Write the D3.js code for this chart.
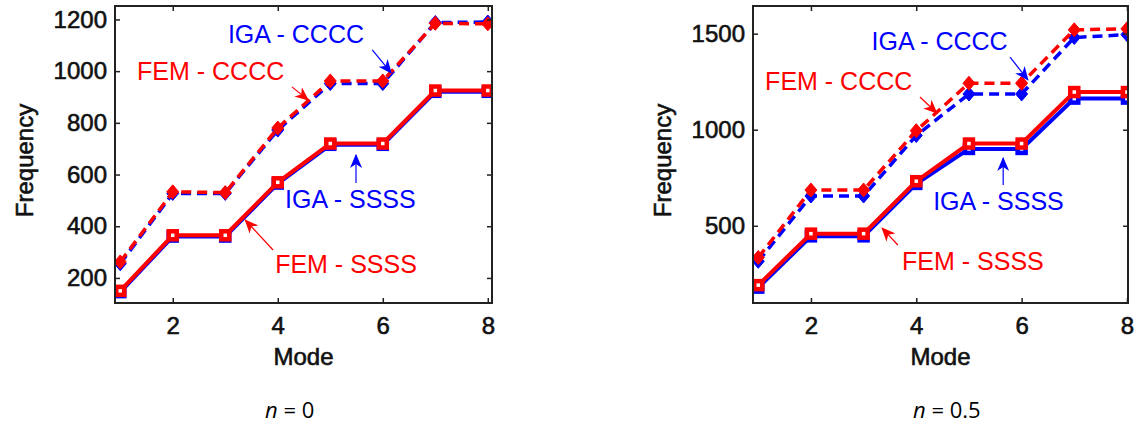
<!DOCTYPE html>
<html>
<head>
<meta charset="utf-8">
<script src="https://cdn.jsdelivr.net/npm/d3@7"></script>
<style>
  body { margin: 0; background: #fff; }
  svg { display: block; }
  .tick text { font-family: "Liberation Sans", Arial, sans-serif; font-size: 24px; fill: #111; stroke: #111; stroke-width: 0.6px; }
  .domain { display: none; }
</style>
</head>
<body>
<svg width="1135" height="425"></svg>
<script>
(function(d3) {
    "use strict";

// mode numbers (x)
var modes = [1, 2, 3, 4, 5, 6, 7, 8];

// n = 0
var femSSSS0 = [150, 365, 365, 570, 720, 720, 925, 925];
var igaSSSS0 = [145, 360, 360, 565, 715, 715, 920, 920];
var femCCCC0 = [262, 533, 530, 780, 962, 962, 1185, 1183];
var igaCCCC0 = [255, 527, 527, 772, 952, 952, 1188, 1190];

// n = 0.5
var femSSSS5 = [191, 459, 459, 732, 928, 928, 1196, 1196];
var igaSSSS5 = [178, 445, 445, 718, 900, 900, 1162, 1162];
var femCCCC5 = [335, 686, 686, 995, 1242, 1242, 1520, 1525];
var igaCCCC5 = [315, 655, 655, 970, 1186, 1186, 1480, 1495];

var xTicks = [2, 4, 6, 8];
var yTicks0 = [200, 400, 600, 800, 1000, 1200];
var yTicks5 = [500, 1000, 1500];

var BLUE = "#0000ff", RED = "#ff0000";

var svg = d3.select("svg");

var defs = svg.append("defs");
[["blue", BLUE], ["red", RED]].forEach(function(c) {
    defs.append("marker")
        .attr("id", "head-" + c[0])
        .attr("viewBox", "0 0 14 12")
        .attr("refX", 13).attr("refY", 6)
        .attr("markerUnits", "userSpaceOnUse")
        .attr("markerWidth", 14).attr("markerHeight", 12)
        .attr("orient", "auto")
        .append("path")
        .attr("d", "M0,0L14,6L0,12L4,6z")
        .attr("fill", c[1]);
});

var panels = [
    {
        left: 115, right: 492, top: 6, bottom: 303,
        xDom: [0.9, 8.08], yDom: [103, 1252], yTicks: yTicks0,
        sets: [
            {v: igaSSSS0, c: BLUE, dash: false},
            {v: igaCCCC0, c: BLUE, dash: true},
            {v: femSSSS0, c: RED, dash: false},
            {v: femCCCC0, c: RED, dash: true}
        ],
        notes: [
            {t: "IGA - CCCC", c: "blue", tx: 3.05, ty: 1109, a: [5.8, 1082, 6.16, 993]},
            {t: "FEM - CCCC", c: "red", tx: 1.32, ty: 966, a: [4.27, 939, 4.58, 888]},
            {t: "IGA - SSSS", c: "blue", tx: 4.14, ty: 470, a: [5.49, 567, 5.49, 676]},
            {t: "FEM - SSSS", c: "red", tx: 3.95, ty: 219, a: [3.91, 308, 3.38, 424]}
        ],
        caption: "0", capX: 265
    },
    {
        left: 753, right: 1128, top: 6, bottom: 303,
        xDom: [0.9, 8.02], yDom: [98, 1644], yTicks: yTicks5,
        sets: [
            {v: igaSSSS5, c: BLUE, dash: false},
            {v: igaCCCC5, c: BLUE, dash: true},
            {v: femSSSS5, c: RED, dash: false},
            {v: femCCCC5, c: RED, dash: true}
        ],
        notes: [
            {t: "IGA - CCCC", c: "blue", tx: 3.15, ty: 1415, a: [5.78, 1378, 6.12, 1259]},
            {t: "FEM - CCCC", c: "red", tx: 1.13, ty: 1207, a: [4.07, 1170, 4.39, 1087]},
            {t: "IGA - SSSS", c: "blue", tx: 4.32, ty: 582, a: [5.65, 712, 5.65, 853]},
            {t: "FEM - SSSS", c: "red", tx: 3.73, ty: 270, a: [3.65, 400, 3.35, 488]}
        ],
        caption: "0.5", capX: 913
    }
];

panels.forEach(function(p) {
    var x = d3.scaleLinear().domain(p.xDom).range([p.left, p.right]),
        y = d3.scaleLinear().domain(p.yDom).range([p.bottom, p.top]),
        g = svg.append("g");

    var clipId = "clip" + p.left;
    defs.append("clipPath").attr("id", clipId)
        .append("rect")
        .attr("x", p.left).attr("y", p.top)
        .attr("width", p.right - p.left).attr("height", p.bottom - p.top);

    var plot = g.append("g").attr("clip-path", "url(#" + clipId + ")");

    var line = d3.line()
        .x(function(d, i) { return x(modes[i]); })
        .y(function(d) { return y(d); });

    p.sets.forEach(function(s) {
        plot.append("path")
            .attr("d", line(s.v))
            .attr("fill", "none")
            .attr("stroke", s.c)
            .attr("stroke-width", s.dash ? 3.5 : 4)
            .attr("stroke-dasharray", s.dash ? "10,6" : null);

        if (s.dash) {
            plot.selectAll(null)
                .data(s.v)
                .enter().append("path")
                .attr("d", "M0,-7L6,0L0,7L-6,0Z")
                .attr("transform", function(d, i) { return "translate(" + x(modes[i]) + "," + y(d) + ")"; })
                .attr("fill", s.c)
                .attr("stroke", s.c)
                .attr("stroke-width", 1);
        } else {
            plot.selectAll(null)
                .data(s.v)
                .enter().append("rect")
                .attr("x", function(d, i) { return x(modes[i]) - 4; })
                .attr("y", function(d) { return y(d) - 4; })
                .attr("width", 8).attr("height", 8)
                .attr("fill", "#fff")
                .attr("stroke", s.c)
                .attr("stroke-width", 4.5);
        }
    });

    // axes, ticks inside
    var fmt = d3.format("d");
    g.append("g")
        .attr("transform", "translate(0," + p.bottom + ")")
        .call(d3.axisBottom(x).tickValues(xTicks).tickFormat(fmt).tickSizeInner(-5).tickSizeOuter(0).tickPadding(14));
    g.append("g")
        .attr("transform", "translate(0," + p.top + ")")
        .call(d3.axisTop(x).tickValues(xTicks).tickSizeInner(-5).tickSizeOuter(0).tickFormat(""));
    g.append("g")
        .attr("transform", "translate(" + p.left + ",0)")
        .call(d3.axisLeft(y).tickValues(p.yTicks).tickFormat(fmt).tickSizeInner(-5).tickSizeOuter(0).tickPadding(8));
    g.append("g")
        .attr("transform", "translate(" + p.right + ",0)")
        .call(d3.axisRight(y).tickValues(p.yTicks).tickSizeInner(-5).tickSizeOuter(0).tickFormat(""));
    g.selectAll(".tick line").attr("stroke", "#222").attr("stroke-width", 1.5);

    g.append("rect")
        .attr("x", p.left).attr("y", p.top)
        .attr("width", p.right - p.left).attr("height", p.bottom - p.top)
        .attr("fill", "none")
        .attr("stroke", "#222")
        .attr("stroke-width", 2);

    // annotations
    p.notes.forEach(function(n) {
        var col = n.c === "blue" ? BLUE : RED;
        g.append("text")
            .attr("x", x(n.tx)).attr("y", y(n.ty))
            .attr("font-family", "Liberation Sans, Arial, sans-serif")
            .attr("font-size", 25)
            .attr("fill", col)
            .text(n.t);
        g.append("line")
            .attr("x1", x(n.a[0])).attr("y1", y(n.a[1]))
            .attr("x2", x(n.a[2])).attr("y2", y(n.a[3]))
            .attr("stroke", col)
            .attr("stroke-width", 1.2)
            .attr("marker-end", "url(#head-" + n.c + ")");
    });

    // axis titles
    g.append("text")
        .attr("transform", "translate(" + (p.left - 82) + "," + ((p.top + p.bottom) / 2 + 6) + ") rotate(-90)")
        .attr("text-anchor", "middle")
        .attr("font-family", "Liberation Sans, Arial, sans-serif")
        .attr("font-size", 24)
        .attr("fill", "#111").attr("stroke", "#111").attr("stroke-width", 0.6)
        .text("Frequency");
    g.append("text")
        .attr("x", (p.left + p.right) / 2).attr("y", p.bottom + 62)
        .attr("text-anchor", "middle")
        .attr("font-family", "Liberation Sans, Arial, sans-serif")
        .attr("font-size", 24)
        .attr("fill", "#111").attr("stroke", "#111").attr("stroke-width", 0.6)
        .text("Mode");

    // caption
    var cap = svg.append("text")
        .attr("x", p.capX).attr("y", 418)
        .attr("font-family", "Open Sans, Noto Sans, sans-serif")
        .attr("font-size", 22)
        .attr("fill", "#000");
    cap.append("tspan").attr("font-style", "italic").text("n");
    cap.append("tspan").text(" = " + p.caption);
});

}(d3));
</script>
</body>
</html>
